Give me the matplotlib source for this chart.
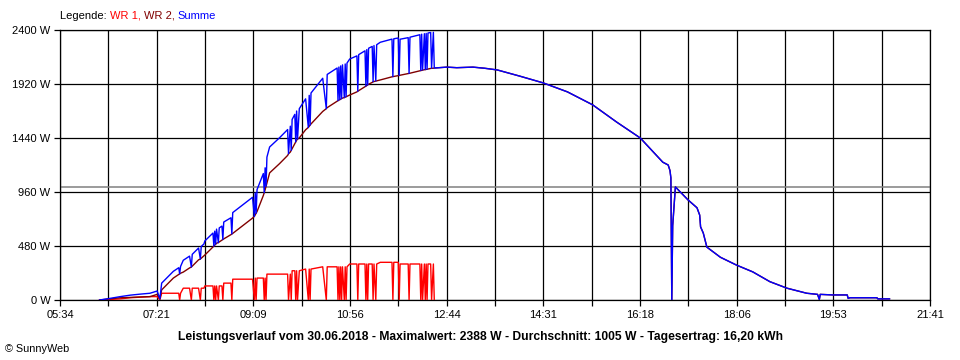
import matplotlib.pyplot as plt
import numpy as np

plt.rcParams['font.family'] = ['Liberation Sans', 'DejaVu Sans']

# morning: both inverters (minutes since midnight, watts)
m_min = [378, 390, 401, 412, 423, 434, 442, 445, 447, 460,
         466, 467, 468, 471, 478, 480, 481, 488, 490, 491,
         494, 495, 504, 505, 506, 507, 508, 510, 511, 514,
         515, 516, 524, 525, 526, 548, 550, 551, 552, 553,
         560, 561, 562, 563, 564, 567, 578, 587, 588, 590,
         591, 592, 595, 596, 597, 598, 600, 607, 610, 611,
         612, 613, 626, 630, 631, 642, 643, 644, 645, 646,
         647, 648, 650, 651, 652, 653, 656, 664, 665, 666,
         673, 674, 675, 676, 677, 681, 682, 683, 685, 686,
         690, 703, 704, 705, 710, 711, 712, 721, 722, 723,
         734, 735, 736, 737, 739, 740, 741, 742, 743, 746,
         747, 749, 750]
m_wr1 = [0, 5, 10, 20, 25, 30, 30, 0, 60, 60,
         60, 0, 60, 105, 105, 0, 105, 105, 0, 105,
         105, 125, 125, 0, 125, 0, 125, 0, 125, 125,
         0, 150, 150, 0, 185, 185, 0, 195, 0, 195,
         195, 0, 195, 0, 230, 230, 230, 230, 0, 230,
         0, 260, 260, 0, 260, 0, 260, 275, 0, 275,
         0, 275, 295, 0, 295, 295, 0, 295, 0, 295,
         0, 295, 0, 295, 0, 295, 320, 320, 0, 320,
         320, 0, 320, 0, 320, 320, 0, 320, 0, 320,
         335, 335, 0, 335, 335, 0, 320, 320, 0, 320,
         320, 0, 320, 0, 320, 0, 320, 0, 320, 320,
         0, 320, 0]
m_wr2 = [0, 10, 20, 23, 27, 30, 50, 10, 90, 195,
         227, 232, 238, 248, 285, 293, 301, 357, 364, 371,
         393, 400, 470, 479, 487, 496, 505, 510, 516, 532,
         538, 543, 581, 587, 592, 728, 743, 757, 771, 786,
         929, 954, 980, 1010, 1040, 1130, 1212, 1285, 1300, 1315,
         1330, 1345, 1390, 1405, 1420, 1430, 1441, 1513, 1534, 1544,
         1555, 1565, 1676, 1701, 1710, 1767, 1772, 1776, 1781, 1786,
         1790, 1795, 1799, 1803, 1807, 1811, 1822, 1850, 1856, 1861,
         1895, 1901, 1906, 1912, 1918, 1934, 1940, 1942, 1947, 1949,
         1956, 1984, 1986, 1987, 1994, 1996, 1998, 2012, 2014, 2016,
         2038, 2040, 2043, 2045, 2047, 2048, 2050, 2051, 2053, 2058,
         2060, 2060, 2062]

# afternoon: only WR 2 delivers
a_min = [764, 775, 793, 806, 820, 845, 871, 898, 926, 953,
         979, 1004, 1010, 1012, 1013, 1014, 1015, 1018, 1032, 1042,
         1045, 1046, 1049, 1053, 1068, 1086, 1104, 1123, 1142, 1164,
         1176, 1178, 1179, 1193, 1209, 1210, 1212, 1242, 1243, 1256]
a_wr2 = [2070, 2065, 2070, 2060, 2045, 1990, 1930, 1850, 1735, 1580,
         1440, 1225, 1200, 1150, 1085, 0, 660, 1005, 890, 820,
         755, 650, 595, 470, 380, 310, 250, 163, 105, 60,
         50, 5, 50, 45, 45, 15, 20, 20, 10, 10]

average = 1005
x_labels = ["05:34", "07:21", "09:09", "10:56", "12:44",
            "14:31", "16:18", "18:06", "19:53", "21:41"]
y_ticks = [0, 480, 960, 1440, 1920, 2400]

t_all = m_min + a_min
wr2_all = m_wr2 + a_wr2
summe = [a + b for a, b in zip(m_wr1, m_wr2)] + a_wr2

fig = plt.figure(figsize=(9.6, 3.6), dpi=100)
ax = fig.add_axes([60 / 960, 60 / 360, 870 / 960, 270 / 360])

ax.axhline(average, color="#808080", lw=1.1, zorder=1)
ax.plot(m_min, m_wr1, color="#ff0000", lw=1.0, zorder=3)
ax.plot(t_all, wr2_all, color="#800000", lw=1.0, zorder=4)
ax.plot(t_all, summe, color="#0000ff", lw=1.0, zorder=5)

# grid every half label step, label on every second line
xt = np.linspace(334, 1301, 19)
labels = [x_labels[i // 2] if i % 2 == 0 else "" for i in range(19)]
ax.set_xticks(xt)
ax.set_xticklabels(labels)
ax.set_yticks(y_ticks)
ax.set_yticklabels([f"{v} W" for v in y_ticks])
ax.set_xlim(334, 1301)
ax.set_ylim(0, 2400)
ax.grid(True, color="black", lw=0.9, zorder=0)
ax.set_axisbelow(True)
for s in ax.spines.values():
    s.set_linewidth(0.9)
ax.tick_params(direction="out", length=4, width=0.9, labelsize=8, pad=3)

# coloured legend line
leg = fig.text(60 / 960, 1 - 16 / 360, "Legende: ", fontsize=8, va="center")
p1 = plt.annotate("WR 1, ", xy=(1, 0), xycoords=leg, va="bottom", fontsize=8, color="#ff0000")
p2 = plt.annotate("WR 2, ", xy=(1, 0), xycoords=p1, va="bottom", fontsize=8, color="#800000")
p3 = plt.annotate("Summe", xy=(1, 0), xycoords=p2, va="bottom", fontsize=8, color="#0000ff")

fig.text(0.5, 1 - 337 / 360,
         "Leistungsverlauf vom 30.06.2018 - Maximalwert: 2388 W - Durchschnitt: 1005 W - Tagesertrag: 16,20 kWh",
         ha="center", va="center", fontsize=8.7, weight="bold")
fig.text(5 / 960, 1 - 349 / 360, "© SunnyWeb", fontsize=7.8, va="center")

fig.savefig("out.png", dpi=100)
